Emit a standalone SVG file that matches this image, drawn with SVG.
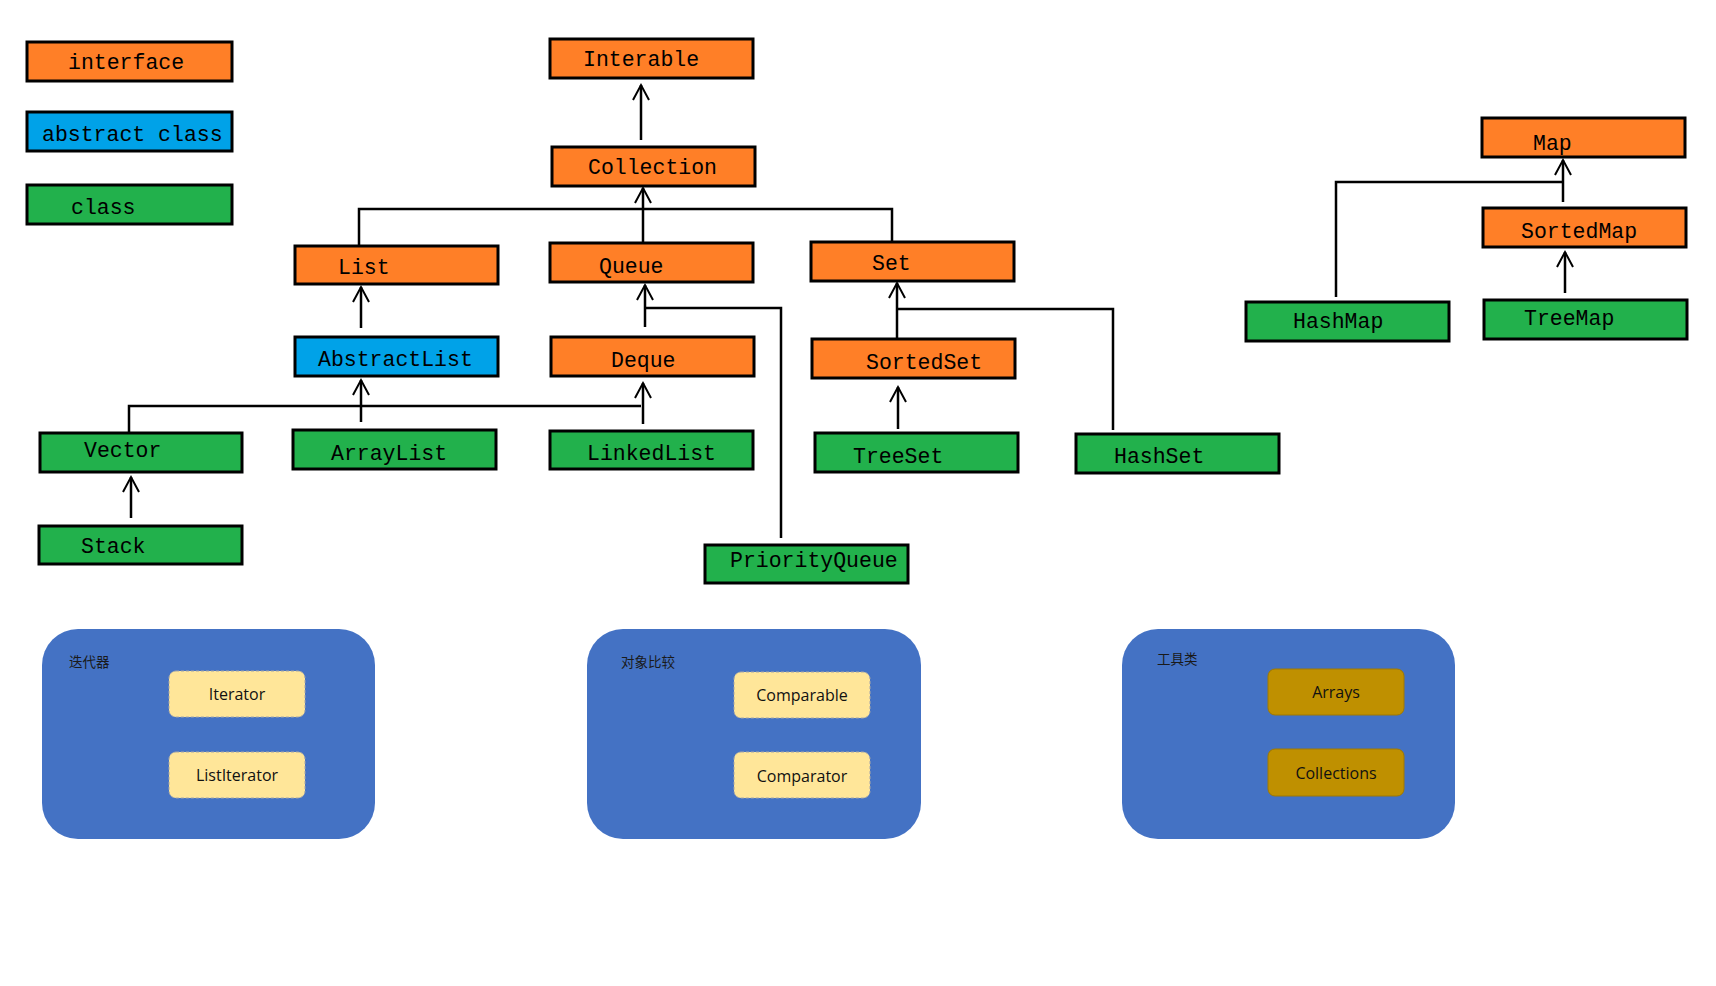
<svg xmlns="http://www.w3.org/2000/svg" width="1716" height="986" viewBox="0 0 1716 986">
<style>
.box{stroke:#000;stroke-width:3}
.if{fill:#FF7F27}
.ab{fill:#00A2E8}
.cl{fill:#22B14C}
.t{font-family:"Liberation Mono","DejaVu Sans Mono",monospace;font-size:21.5px;fill:#000}
.ln{stroke:#000;stroke-width:2.5;fill:none}
.panel{fill:#4472C4}
.it{fill:#FFE699;stroke:#A6A6A6;stroke-width:1;stroke-dasharray:3 2}
.ut{fill:#BF9000;stroke:#A07800;stroke-width:1}
.st{font-family:"Open Sans","Liberation Sans",sans-serif;font-size:16px;fill:#111;text-anchor:middle}
.cjk{font-family:"Noto Sans CJK SC","Noto Sans CJK JP",sans-serif;font-size:13.5px;fill:#1a1a1a}
</style>
<defs>
<marker id="arr" markerUnits="userSpaceOnUse" markerWidth="20" markerHeight="20" viewBox="-17 -10 20 20" refX="0" refY="0" orient="auto" overflow="visible">
<path d="M-15,-8 L0,0 L-15,8" fill="none" stroke="#000" stroke-width="2"/>
</marker>
</defs>
<rect width="1716" height="986" fill="#fff"/>

<g id="legend">
<g id="legend-interface"><rect class="box if" x="27" y="42" width="205" height="39"/><text class="t" x="68" y="69">interface</text></g>
<g id="legend-abstract"><rect class="box ab" x="27" y="112" width="205" height="39"/><text class="t" x="42" y="141">abstract class</text></g>
<g id="legend-class"><rect class="box cl" x="27" y="185" width="205" height="39"/><text class="t" x="71" y="214">class</text></g>
</g>

<g id="connectors">
<line class="ln" x1="641" y1="140" x2="641" y2="85" marker-end="url(#arr)"/>
<line class="ln" x1="643" y1="243" x2="643" y2="188" marker-end="url(#arr)"/>
<polyline class="ln" points="359,246 359,209 892,209 892,242"/>
<line class="ln" x1="361" y1="328" x2="361" y2="287" marker-end="url(#arr)"/>
<line class="ln" x1="645" y1="327" x2="645" y2="285" marker-end="url(#arr)"/>
<polyline class="ln" points="645,308 781,308 781,538"/>
<polyline class="ln" points="129,433 129,406 641,406"/>
<line class="ln" x1="361" y1="422" x2="361" y2="380" marker-end="url(#arr)"/>
<line class="ln" x1="643" y1="424" x2="643" y2="383" marker-end="url(#arr)"/>
<line class="ln" x1="131" y1="518" x2="131" y2="477" marker-end="url(#arr)"/>
<line class="ln" x1="897" y1="338" x2="897" y2="283" marker-end="url(#arr)"/>
<polyline class="ln" points="897,309 1113,309 1113,430"/>
<line class="ln" x1="898" y1="429" x2="898" y2="387" marker-end="url(#arr)"/>
<line class="ln" x1="1563" y1="202" x2="1563" y2="160" marker-end="url(#arr)"/>
<polyline class="ln" points="1336,297 1336,182 1563,182"/>
<line class="ln" x1="1565" y1="293" x2="1565" y2="252" marker-end="url(#arr)"/>
</g>

<g id="Interable"><rect class="box if" x="550" y="39" width="203" height="39"/><text class="t" x="583" y="66">Interable</text></g>
<g id="Collection"><rect class="box if" x="552" y="147" width="203" height="39"/><text class="t" x="588" y="174">Collection</text></g>
<g id="List"><rect class="box if" x="295" y="246" width="203" height="38"/><text class="t" x="338" y="274">List</text></g>
<g id="Queue"><rect class="box if" x="550" y="243" width="203" height="39"/><text class="t" x="599" y="273">Queue</text></g>
<g id="Set"><rect class="box if" x="811" y="242" width="203" height="39"/><text class="t" x="872" y="270">Set</text></g>
<g id="AbstractList"><rect class="box ab" x="295" y="337" width="203" height="39"/><text class="t" x="318" y="366">AbstractList</text></g>
<g id="Deque"><rect class="box if" x="551" y="337" width="203" height="39"/><text class="t" x="611" y="367">Deque</text></g>
<g id="SortedSet"><rect class="box if" x="812" y="339" width="203" height="39"/><text class="t" x="866" y="369">SortedSet</text></g>
<g id="Vector"><rect class="box cl" x="40" y="433" width="202" height="39"/><text class="t" x="84" y="457">Vector</text></g>
<g id="ArrayList"><rect class="box cl" x="293" y="430" width="203" height="39"/><text class="t" x="331" y="460">ArrayList</text></g>
<g id="LinkedList"><rect class="box cl" x="550" y="431" width="203" height="38"/><text class="t" x="587" y="460">LinkedList</text></g>
<g id="TreeSet"><rect class="box cl" x="815" y="433" width="203" height="39"/><text class="t" x="853" y="463">TreeSet</text></g>
<g id="HashSet"><rect class="box cl" x="1076" y="434" width="203" height="39"/><text class="t" x="1114" y="463">HashSet</text></g>
<g id="Stack"><rect class="box cl" x="39" y="526" width="203" height="38"/><text class="t" x="81" y="553">Stack</text></g>
<g id="PriorityQueue"><rect class="box cl" x="705" y="545" width="203" height="38"/><text class="t" x="730" y="567">PriorityQueue</text></g>
<g id="Map"><rect class="box if" x="1482" y="118" width="203" height="39"/><text class="t" x="1533" y="150">Map</text></g>
<g id="SortedMap"><rect class="box if" x="1483" y="208" width="203" height="39"/><text class="t" x="1521" y="238">SortedMap</text></g>
<g id="HashMap"><rect class="box cl" x="1246" y="302" width="203" height="39"/><text class="t" x="1293" y="328">HashMap</text></g>
<g id="TreeMap"><rect class="box cl" x="1484" y="300" width="203" height="39"/><text class="t" x="1524" y="325">TreeMap</text></g>

<g id="panel-iterator">
<rect class="panel" x="42" y="629" width="333" height="210" rx="36"/>
<text class="cjk" x="69" y="667">迭代器</text>
<g id="Iterator"><rect class="it" x="169" y="671" width="136" height="46" rx="7"/><text class="st" x="237" y="700">Iterator</text></g>
<g id="ListIterator"><rect class="it" x="169" y="752" width="136" height="46" rx="7"/><text class="st" x="237" y="781">ListIterator</text></g>
</g>
<g id="panel-compare">
<rect class="panel" x="587" y="629" width="334" height="210" rx="36"/>
<text class="cjk" x="621" y="667">对象比较</text>
<g id="Comparable"><rect class="it" x="734" y="672" width="136" height="46" rx="7"/><text class="st" x="802" y="701">Comparable</text></g>
<g id="Comparator"><rect class="it" x="734" y="752" width="136" height="46" rx="7"/><text class="st" x="802" y="782">Comparator</text></g>
</g>
<g id="panel-tools">
<rect class="panel" x="1122" y="629" width="333" height="210" rx="36"/>
<text class="cjk" x="1157" y="664">工具类</text>
<g id="Arrays"><rect class="ut" x="1268" y="669" width="136" height="46" rx="7"/><text class="st" x="1336" y="698">Arrays</text></g>
<g id="Collections"><rect class="ut" x="1268" y="749" width="136" height="47" rx="7"/><text class="st" x="1336" y="779">Collections</text></g>
</g>
</svg>
